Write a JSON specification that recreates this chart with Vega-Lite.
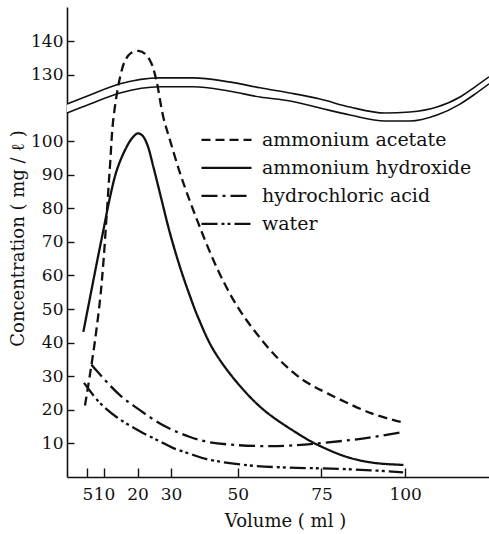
{
  "$schema": "https://vega.github.io/schema/vega-lite/v6.json",
  "width": 422,
  "height": 470,
  "autosize": {"type": "none"},
  "padding": {"left": 67, "top": 7, "right": 0, "bottom": 57},
  "background": "white",
  "config": {
    "view": {"stroke": null},
    "font": "DejaVu Serif",
    "axis": {"labelFont": "DejaVu Serif", "titleFont": "DejaVu Serif", "labelColor": "#111", "titleColor": "#111", "domainColor": "#111", "tickColor": "#111", "titleFontWeight": "normal", "grid": false, "domainWidth": 1.6, "tickWidth": 1.4}
  },
  "datasets": {
    "curves": [
      {"s": "ammonium acetate", "x": 4.3, "y": 21.3},
      {"s": "ammonium acetate", "x": 5.8, "y": 30.6},
      {"s": "ammonium acetate", "x": 7.3, "y": 40.7},
      {"s": "ammonium acetate", "x": 8.8, "y": 52.8},
      {"s": "ammonium acetate", "x": 9.8, "y": 63.9},
      {"s": "ammonium acetate", "x": 10.8, "y": 78.3},
      {"s": "ammonium acetate", "x": 11.8, "y": 93.1},
      {"s": "ammonium acetate", "x": 12.8, "y": 106.8},
      {"s": "ammonium acetate", "x": 14.8, "y": 129.4},
      {"s": "ammonium acetate", "x": 16.3, "y": 134.3},
      {"s": "ammonium acetate", "x": 18.0, "y": 136.5},
      {"s": "ammonium acetate", "x": 20.3, "y": 137.2},
      {"s": "ammonium acetate", "x": 22.3, "y": 136.3},
      {"s": "ammonium acetate", "x": 24.0, "y": 133.8},
      {"s": "ammonium acetate", "x": 25.5, "y": 129.0},
      {"s": "ammonium acetate", "x": 27.7, "y": 107.2},
      {"s": "ammonium acetate", "x": 29.7, "y": 100.3},
      {"s": "ammonium acetate", "x": 32.7, "y": 90.5},
      {"s": "ammonium acetate", "x": 35.7, "y": 82.0},
      {"s": "ammonium acetate", "x": 38.2, "y": 75.5},
      {"s": "ammonium acetate", "x": 41.0, "y": 68.5},
      {"s": "ammonium acetate", "x": 44.7, "y": 60.2},
      {"s": "ammonium acetate", "x": 49.7, "y": 51.0},
      {"s": "ammonium acetate", "x": 55.6, "y": 42.7},
      {"s": "ammonium acetate", "x": 62.6, "y": 34.7},
      {"s": "ammonium acetate", "x": 69.6, "y": 28.8},
      {"s": "ammonium acetate", "x": 76.8, "y": 24.9},
      {"s": "ammonium acetate", "x": 89.8, "y": 19.0},
      {"s": "ammonium acetate", "x": 99.0, "y": 16.3},
      {"s": "ammonium hydroxide", "x": 3.8, "y": 43.2},
      {"s": "ammonium hydroxide", "x": 5.8, "y": 53.4},
      {"s": "ammonium hydroxide", "x": 7.8, "y": 63.6},
      {"s": "ammonium hydroxide", "x": 9.8, "y": 73.5},
      {"s": "ammonium hydroxide", "x": 11.8, "y": 83.4},
      {"s": "ammonium hydroxide", "x": 13.8, "y": 91.3},
      {"s": "ammonium hydroxide", "x": 16.3, "y": 97.4},
      {"s": "ammonium hydroxide", "x": 18.4, "y": 100.9},
      {"s": "ammonium hydroxide", "x": 20.1, "y": 102.3},
      {"s": "ammonium hydroxide", "x": 21.5, "y": 101.6},
      {"s": "ammonium hydroxide", "x": 22.9, "y": 99.0},
      {"s": "ammonium hydroxide", "x": 24.7, "y": 92.5},
      {"s": "ammonium hydroxide", "x": 26.7, "y": 84.5},
      {"s": "ammonium hydroxide", "x": 29.7, "y": 72.6},
      {"s": "ammonium hydroxide", "x": 32.7, "y": 62.5},
      {"s": "ammonium hydroxide", "x": 35.7, "y": 53.8},
      {"s": "ammonium hydroxide", "x": 38.2, "y": 47.3},
      {"s": "ammonium hydroxide", "x": 42.6, "y": 38.0},
      {"s": "ammonium hydroxide", "x": 49.7, "y": 28.2},
      {"s": "ammonium hydroxide", "x": 57.7, "y": 20.0},
      {"s": "ammonium hydroxide", "x": 67.8, "y": 13.0},
      {"s": "ammonium hydroxide", "x": 73.8, "y": 9.6},
      {"s": "ammonium hydroxide", "x": 82.8, "y": 5.9},
      {"s": "ammonium hydroxide", "x": 90.8, "y": 4.2},
      {"s": "ammonium hydroxide", "x": 99.5, "y": 3.6},
      {"s": "hydrochloric acid", "x": 6.2, "y": 33.5},
      {"s": "hydrochloric acid", "x": 7.8, "y": 31.6},
      {"s": "hydrochloric acid", "x": 14.8, "y": 24.3},
      {"s": "hydrochloric acid", "x": 20.7, "y": 19.9},
      {"s": "hydrochloric acid", "x": 26.7, "y": 15.9},
      {"s": "hydrochloric acid", "x": 30.7, "y": 13.9},
      {"s": "hydrochloric acid", "x": 35.7, "y": 11.9},
      {"s": "hydrochloric acid", "x": 40.7, "y": 10.5},
      {"s": "hydrochloric acid", "x": 49.7, "y": 9.5},
      {"s": "hydrochloric acid", "x": 60.0, "y": 9.2},
      {"s": "hydrochloric acid", "x": 67.8, "y": 9.5},
      {"s": "hydrochloric acid", "x": 73.8, "y": 10.0},
      {"s": "hydrochloric acid", "x": 87.8, "y": 11.5},
      {"s": "hydrochloric acid", "x": 99.0, "y": 13.3},
      {"s": "water", "x": 4.0, "y": 28.0},
      {"s": "water", "x": 8.8, "y": 22.0},
      {"s": "water", "x": 13.8, "y": 17.8},
      {"s": "water", "x": 20.7, "y": 13.6},
      {"s": "water", "x": 26.7, "y": 10.6},
      {"s": "water", "x": 30.7, "y": 8.6},
      {"s": "water", "x": 35.7, "y": 6.9},
      {"s": "water", "x": 40.7, "y": 5.3},
      {"s": "water", "x": 52.8, "y": 3.5},
      {"s": "water", "x": 65.0, "y": 2.8},
      {"s": "water", "x": 77.8, "y": 2.5},
      {"s": "water", "x": 89.8, "y": 2.0},
      {"s": "water", "x": 99.4, "y": 1.4}
    ],
    "brk": [
      {"x": -1.08, "top": 111.02, "bot": 108.34},
      {"x": 5.8, "top": 113.71, "bot": 111.02},
      {"x": 14.77, "top": 127.32, "bot": 114.3},
      {"x": 26.73, "top": 129.11, "bot": 126.43},
      {"x": 36.59, "top": 129.11, "bot": 126.43},
      {"x": 47.26, "top": 127.92, "bot": 114.9},
      {"x": 56.64, "top": 126.13, "bot": 113.11},
      {"x": 65.61, "top": 114.3, "bot": 111.92},
      {"x": 74.56, "top": 112.51, "bot": 109.83},
      {"x": 83.53, "top": 110.13, "bot": 107.75},
      {"x": 93.99, "top": 108.34, "bot": 105.96},
      {"x": 101.46, "top": 108.64, "bot": 105.96},
      {"x": 109.54, "top": 110.13, "bot": 107.75},
      {"x": 116.41, "top": 113.11, "bot": 111.02},
      {"x": 120.9, "top": 126.43, "bot": 114.0},
      {"x": 125.08, "top": 129.41, "bot": 127.32}
    ]
  },
  "encoding": {
    "x": {
      "field": "x", "type": "quantitative",
      "scale": {"domain": [-1.08, 125.08], "nice": false, "zero": false},
      "axis": {"values": [5, 10, 20, 30, 50, 75, 100], "title": "Volume ( ml )", "labelFontSize": 17, "titleFontSize": 18, "tickSize": -9, "labelPadding": 18, "labelOverlap": false, "labelFlush": false, "titleX": 218, "titleY": 44, "titleBaseline": "middle", "titleAlign": "center"}
    }
  },
  "layer": [
    {
      "data": {"name": "brk"},
      "mark": {"type": "area", "interpolate": "monotone", "color": "white", "opacity": 1},
      "encoding": {
        "y": {"field": "top", "type": "quantitative",
          "scale": {"type": "linear", "domain": [0, 115, 125.3, 150.3], "range": [470, 83.7, 83.6, 0], "nice": false, "zero": false},
          "axis": {"values": [10, 20, 30, 40, 50, 60, 70, 80, 90, 100, 130, 140], "title": "Concentration ( mg / ℓ )", "labelFontSize": 17, "titleFontSize": 18, "tickSize": -7, "labelPadding": 11, "labelOverlap": false, "titleX": -49, "titleY": 231, "titleAngle": -90, "titleAlign": "center", "titleBaseline": "middle"}},
        "y2": {"field": "bot"}
      }
    },
    {
      "data": {"name": "brk"},
      "mark": {"type": "line", "interpolate": "monotone", "color": "#111", "strokeWidth": 1.6},
      "encoding": {"y": {"field": "top", "type": "quantitative"}}
    },
    {
      "data": {"name": "brk"},
      "mark": {"type": "line", "interpolate": "monotone", "color": "#111", "strokeWidth": 1.6},
      "encoding": {"y": {"field": "bot", "type": "quantitative"}}
    },
    {
      "data": {"name": "curves"},
      "mark": {"type": "line", "interpolate": "catmull-rom", "color": "#111", "strokeWidth": 2.3},
      "encoding": {
        "y": {"field": "y", "type": "quantitative"},
        "strokeDash": {
          "field": "s", "type": "nominal",
          "scale": {"domain": ["ammonium acetate", "ammonium hydroxide", "hydrochloric acid", "water"], "range": [[9, 5], [1, 0], [16, 5, 3, 5], [16, 4, 3, 3, 3, 4]]},
          "legend": {"title": null, "orient": "none", "legendX": 133, "legendY": 119, "symbolType": "stroke", "symbolSize": 2500, "symbolStrokeWidth": 2.4, "symbolStrokeColor": "#111", "labelFont": "DejaVu Serif", "labelFontSize": 19, "labelColor": "#111", "labelOffset": 9, "labelLimit": 0, "clipHeight": 27.7, "rowPadding": 0, "padding": 0, "offset": 0}
        }
      }
    },
    {
      "mark": {"type": "rule", "color": "#111", "strokeWidth": 1.6},
      "encoding": {"y": {"datum": 150.3}}
    }
  ]
}
